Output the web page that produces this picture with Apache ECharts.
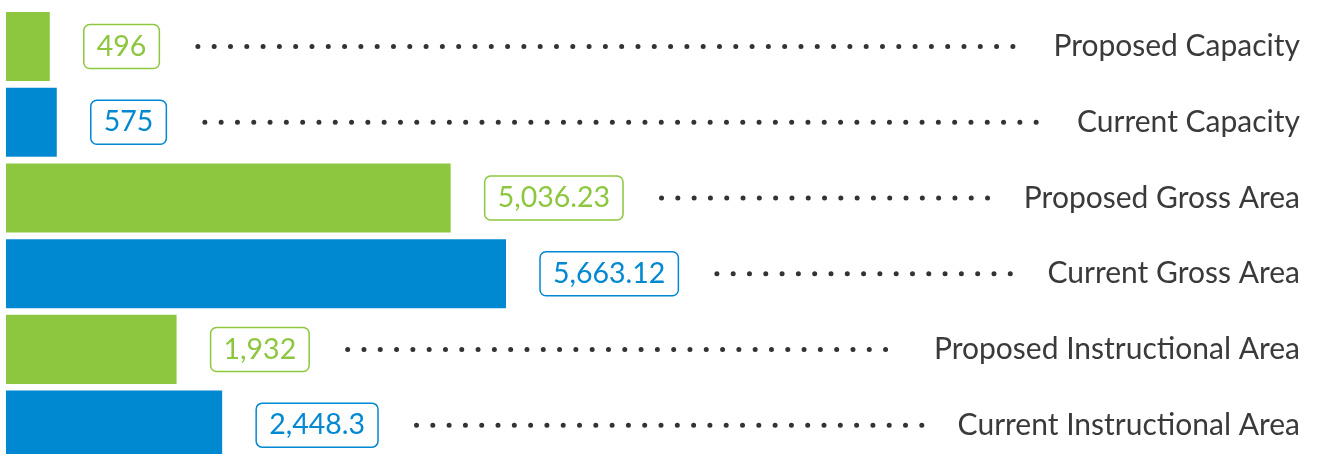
<!DOCTYPE html>
<html>
<head>
<meta charset="utf-8">
<script src="https://cdn.jsdelivr.net/npm/echarts@6/dist/echarts.min.js"></script>
<style>
  html, body { margin: 0; padding: 0; background: #fff; overflow: hidden; }
  /* the last bar runs past the bottom edge in the reference, so the canvas is a bit taller than the window */
  #chart { width: 1317px; height: 463px; }
</style>
</head>
<body>
<div id="chart"></div>
<script>
const categories = [
  'Proposed Capacity',
  'Current Capacity',
  'Proposed Gross Area',
  'Current Gross Area',
  'Proposed Instructional Area',
  'Current Instructional Area'
];
const values = [496, 575, 5036.23, 5663.12, 1932, 2448.3];
const kinds = ['proposed', 'current', 'proposed', 'current', 'proposed', 'current'];

const GREEN = '#8DC63F';
const BLUE = '#0088D1';
const FONT = 'Lato';
const NUM_SIZE = 28.5;
const CAT_SIZE = 30;
const LABEL_DIST = 34;
const PAD_X = 13;
const RIGHT_EDGE = 1300;

const fmt = v => v.toLocaleString('en-US', { maximumFractionDigits: 2 });

// text measuring for the dotted leaders
const ctx = document.createElement('canvas').getContext('2d');
const textWidth = (s, size) => {
  ctx.font = size + 'px ' + FONT;
  return ctx.measureText(s).width;
};

const chart = echarts.init(document.getElementById('chart'));

const option = {
  animation: false,
  grid: { left: 6, right: 17, top: 8.7, bottom: 0 },
  xAxis: {
    type: 'value',
    min: 0,
    max: 14656,
    show: false
  },
  yAxis: {
    type: 'category',
    data: categories,
    inverse: true,
    position: 'right',
    axisLine: { show: false },
    axisTick: { show: false },
    splitLine: { show: false },
    axisLabel: {
      inside: true,
      margin: 0,
      fontFamily: FONT,
      fontSize: CAT_SIZE,
      color: '#3a3a3a'
    }
  },
  series: [
    {
      type: 'bar',
      barCategoryGap: '8.7%',
      data: values.map((v, i) => {
        const c = kinds[i] === 'proposed' ? GREEN : BLUE;
        return {
          value: v,
          itemStyle: { color: c },
          label: {
            color: c,
            borderColor: c
          }
        };
      }),
      label: {
        show: true,
        position: 'right',
        distance: LABEL_DIST,
        formatter: p => fmt(p.value),
        fontFamily: FONT,
        fontSize: NUM_SIZE,
        lineHeight: 28,
        padding: [8, PAD_X, 8, PAD_X],
        borderWidth: 1.5,
        borderRadius: 6
      }
    },
    {
      type: 'custom',
      silent: true,
      data: values.map((v, i) => [v, i]),
      renderItem: (params, api) => {
        const i = api.value(1);
        const end = api.coord([api.value(0), i]);
        const boxW = textWidth(fmt(values[i]), NUM_SIZE) + PAD_X * 2 + 1.5;
        const x0 = end[0] + LABEL_DIST + boxW + 37;
        const x1 = RIGHT_EDGE - textWidth(categories[i], CAT_SIZE) - 33;
        return {
          type: 'line',
          shape: { x1: x0, y1: end[1], x2: x1, y2: end[1] },
          style: {
            stroke: '#333',
            lineWidth: 5,
            lineDash: [0, 16.3],
            lineCap: 'round'
          }
        };
      }
    }
  ]
};

chart.setOption(option);
</script>
</body>
</html>
